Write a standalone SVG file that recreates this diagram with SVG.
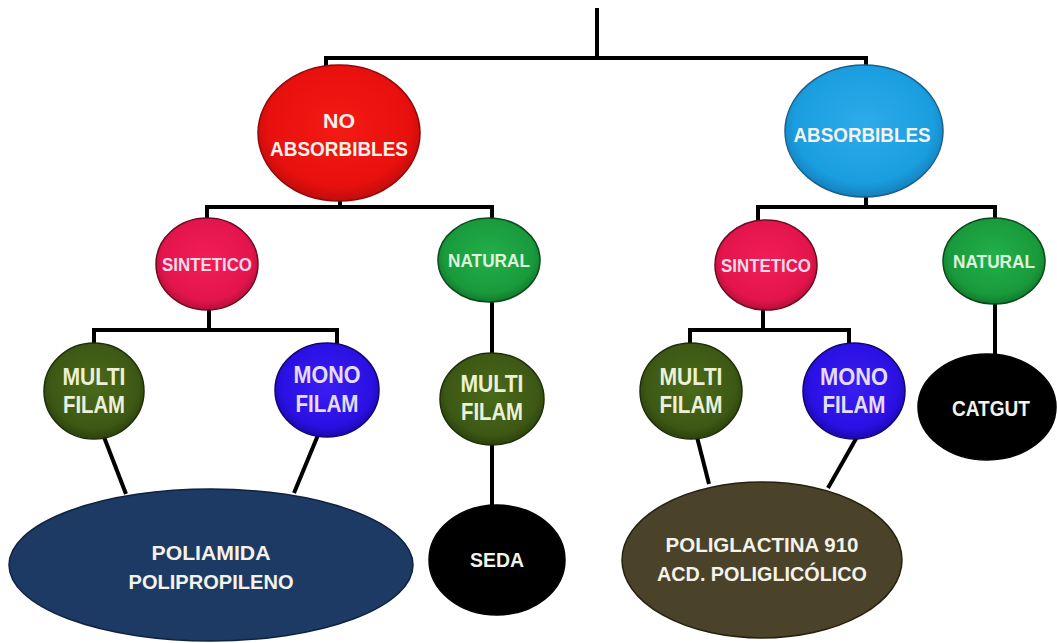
<svg xmlns="http://www.w3.org/2000/svg" width="1057" height="643" viewBox="0 0 1057 643">
<defs>
<radialGradient id="gRed" cx="50%" cy="45%" r="55%"><stop offset="0" stop-color="#f41a14"/><stop offset="0.8" stop-color="#e8100e"/><stop offset="1" stop-color="#c00c0c"/></radialGradient>
<radialGradient id="gBlue" cx="50%" cy="45%" r="55%"><stop offset="0" stop-color="#2eaaea"/><stop offset="0.8" stop-color="#1a9edf"/><stop offset="1" stop-color="#1580bd"/></radialGradient>
<radialGradient id="gSint" cx="50%" cy="45%" r="55%"><stop offset="0" stop-color="#f21d58"/><stop offset="0.8" stop-color="#e3154c"/><stop offset="1" stop-color="#b80e3a"/></radialGradient>
<radialGradient id="gNat" cx="50%" cy="45%" r="55%"><stop offset="0" stop-color="#22b04a"/><stop offset="0.8" stop-color="#199a3c"/><stop offset="1" stop-color="#117a2c"/></radialGradient>
<radialGradient id="gMulti" cx="50%" cy="45%" r="55%"><stop offset="0" stop-color="#4a6a1a"/><stop offset="0.8" stop-color="#3d5814"/><stop offset="1" stop-color="#2c420c"/></radialGradient>
<radialGradient id="gMono" cx="50%" cy="45%" r="55%"><stop offset="0" stop-color="#3a1ef2"/><stop offset="0.8" stop-color="#2a10e2"/><stop offset="1" stop-color="#1c08b0"/></radialGradient>
</defs>
<style>
.bg{fill:#ffffff}
.conn{fill:none;stroke:#000;stroke-width:4;stroke-linecap:butt;stroke-linejoin:miter}
.node{stroke-width:1.5}
.t{font-family:"Liberation Sans",Arial,sans-serif;font-weight:bold;text-anchor:middle}
.w{fill:#f4f2ea}
.sm{fill:#f6dbe8}
.nt{fill:#dcf2dc}
.mu{fill:#ecf0d6}
.mo{fill:#e4dcf8}
</style>
<rect class="bg" x="0" y="0" width="1057" height="643"/>
<g id="connectors">
<path class="conn" d="M597,8 V58"/>
<path class="conn" d="M326,67 V58 H866 V66"/>
<path class="conn" d="M340,200 V207"/>
<path class="conn" d="M207,220 V207 H492 V220"/>
<path class="conn" d="M209,309 V330"/>
<path class="conn" d="M94,345 V330 H337 V345"/>
<path class="conn" d="M492,301 V355"/>
<path class="conn" d="M492,444 V507"/>
<path class="conn" d="M104,437 L126,494"/>
<path class="conn" d="M318,435 L294,493"/>
<path class="conn" d="M866,196 V207"/>
<path class="conn" d="M758,222 V207 H995 V220"/>
<path class="conn" d="M763,309 V330"/>
<path class="conn" d="M690,345 V330 H849 V345"/>
<path class="conn" d="M995,303 V356"/>
<path class="conn" d="M697,437 L709,484"/>
<path class="conn" d="M857,437 L828,488"/>
</g>
<g id="n-noabs">
<ellipse class="node" cx="339" cy="133" rx="81" ry="68" fill="url(#gRed)" stroke="#8e0a0a"/>
<text class="t w" x="339" y="128" font-size="21" textLength="32" lengthAdjust="spacingAndGlyphs">NO</text>
<text class="t w" x="339" y="156" font-size="21" textLength="138" lengthAdjust="spacingAndGlyphs">ABSORBIBLES</text>
</g>
<g id="n-abs">
<ellipse class="node" cx="864" cy="131" rx="79" ry="66" fill="url(#gBlue)" stroke="#1a5f8e"/>
<text class="t w" x="862" y="142" font-size="21" textLength="137" lengthAdjust="spacingAndGlyphs">ABSORBIBLES</text>
</g>
<g id="n-sint-l">
<ellipse class="node" cx="207" cy="264" rx="51" ry="46" fill="url(#gSint)" stroke="#6e0a24"/>
<text class="t sm" x="207" y="271" font-size="18" textLength="90" lengthAdjust="spacingAndGlyphs">SINTETICO</text>
</g>
<g id="n-nat-l">
<ellipse class="node" cx="489" cy="260" rx="51" ry="42" fill="url(#gNat)" stroke="#0c4a1c"/>
<text class="t nt" x="489" y="267" font-size="18" textLength="82" lengthAdjust="spacingAndGlyphs">NATURAL</text>
</g>
<g id="n-multi-l">
<ellipse class="node" cx="94" cy="391" rx="50" ry="48" fill="url(#gMulti)" stroke="#1e2e08"/>
<text class="t mu" x="94" y="385" font-size="23" textLength="63" lengthAdjust="spacingAndGlyphs">MULTI</text>
<text class="t mu" x="94" y="413" font-size="23" textLength="62" lengthAdjust="spacingAndGlyphs">FILAM</text>
</g>
<g id="n-mono-l">
<ellipse class="node" cx="327" cy="390" rx="52" ry="47" fill="url(#gMono)" stroke="#12066e"/>
<text class="t mo" x="327" y="383" font-size="23" textLength="67" lengthAdjust="spacingAndGlyphs">MONO</text>
<text class="t mo" x="327" y="412" font-size="23" textLength="63" lengthAdjust="spacingAndGlyphs">FILAM</text>
</g>
<g id="n-multi-m">
<ellipse class="node" cx="492" cy="399" rx="52" ry="46" fill="url(#gMulti)" stroke="#1e2e08"/>
<text class="t mu" x="492" y="392" font-size="23" textLength="63" lengthAdjust="spacingAndGlyphs">MULTI</text>
<text class="t mu" x="492" y="420" font-size="23" textLength="62" lengthAdjust="spacingAndGlyphs">FILAM</text>
</g>
<g id="n-poliamida">
<ellipse class="node" cx="211" cy="565" rx="202" ry="76" fill="#1c3a63" stroke="#0f2240"/>
<text class="t w" x="211" y="560" font-size="21" textLength="119" lengthAdjust="spacingAndGlyphs">POLIAMIDA</text>
<text class="t w" x="211" y="589" font-size="21" textLength="165" lengthAdjust="spacingAndGlyphs">POLIPROPILENO</text>
</g>
<g id="n-seda">
<ellipse class="node" cx="497" cy="560" rx="68" ry="55" fill="#000000" stroke="#000"/>
<text class="t w" x="497" y="567" font-size="21" textLength="54" lengthAdjust="spacingAndGlyphs">SEDA</text>
</g>
<g id="n-sint-r">
<ellipse class="node" cx="766" cy="265" rx="51" ry="45" fill="url(#gSint)" stroke="#6e0a24"/>
<text class="t sm" x="766" y="272" font-size="18" textLength="90" lengthAdjust="spacingAndGlyphs">SINTETICO</text>
</g>
<g id="n-nat-r">
<ellipse class="node" cx="994" cy="261" rx="51" ry="43" fill="url(#gNat)" stroke="#0c4a1c"/>
<text class="t nt" x="994" y="268" font-size="18" textLength="82" lengthAdjust="spacingAndGlyphs">NATURAL</text>
</g>
<g id="n-multi-r">
<ellipse class="node" cx="691" cy="391" rx="51" ry="48" fill="url(#gMulti)" stroke="#1e2e08"/>
<text class="t mu" x="691" y="385" font-size="23" textLength="63" lengthAdjust="spacingAndGlyphs">MULTI</text>
<text class="t mu" x="691" y="413" font-size="23" textLength="63" lengthAdjust="spacingAndGlyphs">FILAM</text>
</g>
<g id="n-mono-r">
<ellipse class="node" cx="854" cy="391" rx="51" ry="48" fill="url(#gMono)" stroke="#12066e"/>
<text class="t mo" x="854" y="385" font-size="23" textLength="68" lengthAdjust="spacingAndGlyphs">MONO</text>
<text class="t mo" x="854" y="413" font-size="23" textLength="63" lengthAdjust="spacingAndGlyphs">FILAM</text>
</g>
<g id="n-catgut">
<ellipse class="node" cx="987" cy="407" rx="69" ry="53" fill="#000000" stroke="#000"/>
<text class="t w" x="991" y="416" font-size="22" textLength="78" lengthAdjust="spacingAndGlyphs">CATGUT</text>
</g>
<g id="n-poliglactina">
<ellipse class="node" cx="762" cy="560" rx="140" ry="78" fill="#4a4229" stroke="#26210f"/>
<text class="t w" x="762" y="552" font-size="21" textLength="193" lengthAdjust="spacingAndGlyphs">POLIGLACTINA 910</text>
<text class="t w" x="762" y="581" font-size="21" textLength="210" lengthAdjust="spacingAndGlyphs">ACD. POLIGLICÓLICO</text>
</g>
</svg>
